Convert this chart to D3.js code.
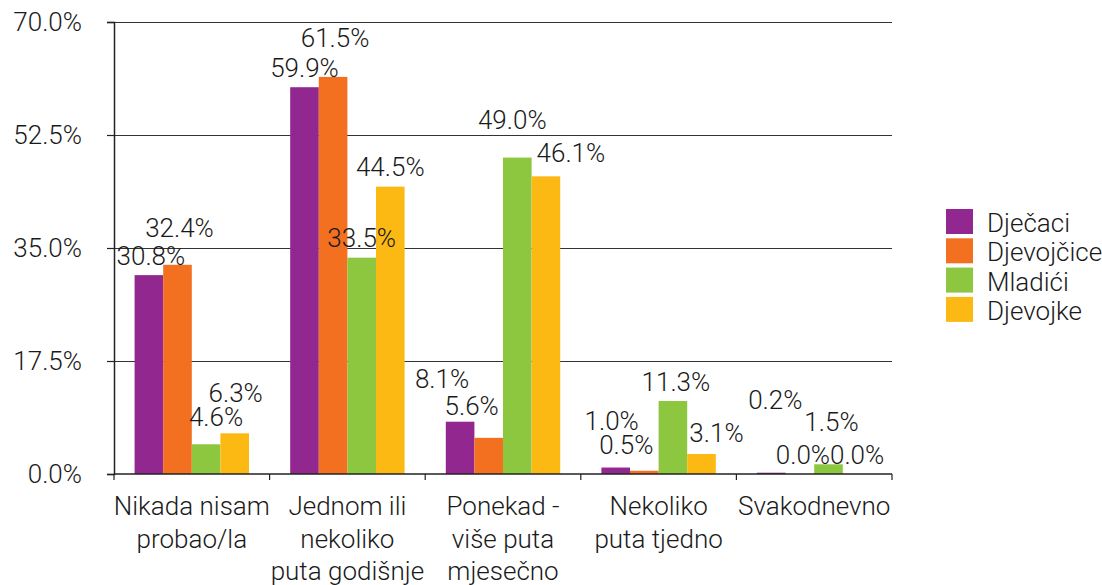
<!DOCTYPE html>
<html>
<head>
<meta charset="utf-8">
<script src="https://cdn.jsdelivr.net/npm/d3@7"></script>
<style>
  html, body { margin: 0; padding: 0; background: #fff; }
  svg { display: block; }
  text { font-family: Roboto, "Liberation Sans", Arial, sans-serif; font-weight: 300; font-size: 26px; fill: #1a1a1a; }
</style>
</head>
<body>
<svg id="chart" width="1102" height="585"></svg>
<script>
// ---- data ----
const categories = [
  "Nikada nisam\nprobao/la",
  "Jednom ili\nnekoliko\nputa godišnje",
  "Ponekad -\nviše puta\nmjesečno",
  "Nekoliko\nputa tjedno",
  "Svakodnevno"
];
const seriesNames = ["Dječaci", "Djevojčice", "Mladići", "Djevojke"];
const djecaci    = [30.8, 59.9, 8.1, 1.0, 0.2];
const djevojcice = [32.4, 61.5, 5.6, 0.5, 0.0];
const mladici    = [4.6, 33.5, 49.0, 11.3, 1.5];
const djevojke   = [6.3, 44.5, 46.1, 3.1, 0.0];
const yTicks = [0, 17.5, 35, 52.5, 70];

// ---- styling / layout ----
const colors = ["#92278F", "#F37021", "#8DC63F", "#FDB913"];
// manual label nudges (dx, dy) per series, per category, as in the original
const labelNudge = [
  [[2, 0], [0, 0], [-18, -23], [-4, -27], [4, -53]],
  [[2, -17], [2, -19], [-17, -12], [-18, -6], [3, 0]],
  [[10, -8], [0, 0], [-5, -18], [3, 0], [3, -23]],
  [[1, -21], [0, 0], [25, -4], [15, -1], [0, 0]]
];

const seriesValues = [djecaci, djevojcice, mladici, djevojke];
const svg = d3.select("#chart");
const x0 = 114, x1 = 892, yTop = 22, yBot = 474;

const x = d3.scaleBand().domain(categories).range([x0, x1]).paddingInner(0).paddingOuter(0);
const xs = d3.scaleBand().domain(seriesNames).range([0, x.bandwidth()]).paddingInner(0).paddingOuter(0.72);
const y = d3.scaleLinear().domain([0, 70]).range([yBot, yTop]);

// gridlines
svg.append("g").selectAll("line").data(yTicks.filter(t => t > 0)).join("line")
  .attr("x1", x0).attr("x2", x1)
  .attr("y1", d => Math.round(y(d)) + 0.5).attr("y2", d => Math.round(y(d)) + 0.5)
  .attr("stroke", "#333").attr("stroke-width", 1.2);

// y axis
const yAxis = svg.append("g").attr("transform", `translate(${x0},0)`)
  .call(d3.axisLeft(y).tickValues(yTicks).tickSize(7).tickPadding(25)
    .tickFormat(d => d.toFixed(1) + "%"));
yAxis.select(".domain").attr("stroke", "#222").attr("stroke-width", 1.5);
yAxis.selectAll(".tick line").attr("stroke", "#222").attr("stroke-width", 1.2);
yAxis.selectAll(".tick text").attr("font-size", null).attr("font-family", null).attr("fill", null);

// bars
const groups = svg.append("g").selectAll("g").data(categories).join("g")
  .attr("transform", d => `translate(${x(d)},0)`);
groups.each(function(cat, ci) {
  const g = d3.select(this);
  seriesNames.forEach((s, si) => {
    const v = seriesValues[si][ci];
    g.append("rect")
      .attr("x", xs(s)).attr("width", xs.bandwidth())
      .attr("y", y(v)).attr("height", yBot - y(v))
      .attr("fill", colors[si]);
  });
});

// x axis
const xAxisG = svg.append("g");
xAxisG.append("line").attr("x1", x0).attr("x2", x1).attr("y1", yBot).attr("y2", yBot)
  .attr("stroke", "#222").attr("stroke-width", 1.5);
const bounds = categories.map(c => x(c)).concat([x1]);
xAxisG.selectAll("line.tk").data(bounds).join("line").attr("class", "tk")
  .attr("x1", d => d).attr("x2", d => d).attr("y1", yBot).attr("y2", yBot + 6)
  .attr("stroke", "#222").attr("stroke-width", 1.2);
const catLabels = xAxisG.selectAll("text").data(categories).join("text")
  .attr("text-anchor", "middle")
  .attr("transform", d => `translate(${x(d) + x.bandwidth() / 2},515)`);
catLabels.each(function(d) {
  const t = d3.select(this);
  d.split("\n").forEach((line, i) => {
    t.append("tspan").attr("x", 0).attr("y", i * 32.5).text(line);
  });
});

// value labels
const lab = svg.append("g");
categories.forEach((cat, ci) => {
  seriesNames.forEach((s, si) => {
    const v = seriesValues[si][ci];
    const n = labelNudge[si][ci];
    lab.append("text")
      .attr("text-anchor", "middle")
      .attr("x", x(cat) + xs(s) + xs.bandwidth() / 2 + n[0])
      .attr("y", y(v) - 10.5 + n[1])
      .text(v.toFixed(1) + "%");
  });
});

// legend
const leg = svg.append("g").attr("transform", "translate(946,209)");
const li = leg.selectAll("g").data(seriesNames).join("g")
  .attr("transform", (d, i) => `translate(0,${i * 29.3})`);
li.append("rect").attr("width", 27).attr("height", 25).attr("fill", (d, i) => colors[i]);
li.append("text").attr("x", 41).attr("y", 23).text(d => d);
</script>
</body>
</html>
